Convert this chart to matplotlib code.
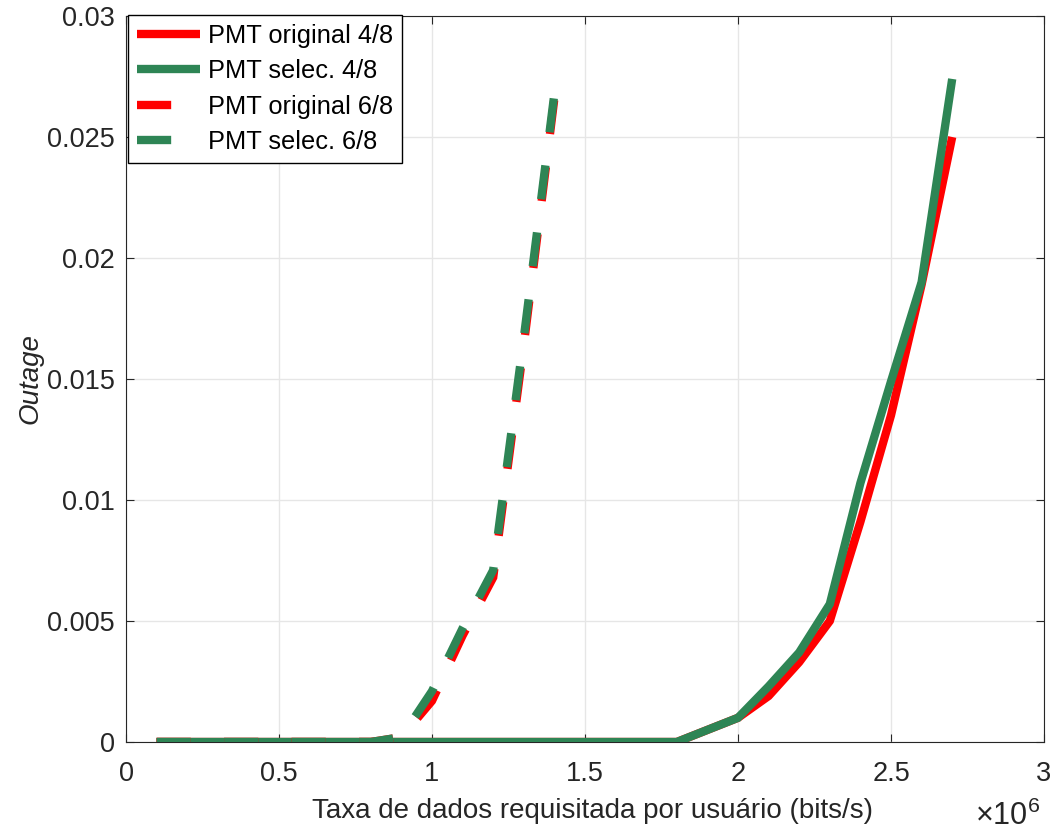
import matplotlib
matplotlib.use("Agg")
import matplotlib.pyplot as plt
from matplotlib.ticker import FuncFormatter, MultipleLocator

plt.rcParams['font.family'] = ['Liberation Sans', 'DejaVu Sans']
plt.rcParams['mathtext.fontset'] = 'custom'
plt.rcParams['mathtext.rm'] = 'Liberation Sans'
plt.rcParams['mathtext.it'] = 'Liberation Sans:italic'

# ---- data ----
x48 = [0.1e6, 0.2e6, 0.3e6, 0.4e6, 0.5e6, 0.6e6, 0.7e6, 0.8e6, 0.9e6, 1.0e6,
       1.1e6, 1.2e6, 1.3e6, 1.4e6, 1.5e6, 1.6e6, 1.7e6, 1.8e6, 1.9e6, 2.0e6,
       2.1e6, 2.2e6, 2.3e6, 2.4e6, 2.5e6, 2.6e6, 2.7e6]
orig48 = [0, 0, 0, 0, 0, 0, 0, 0, 0, 0,
          0, 0, 0, 0, 0, 0, 0, 0, 0.0005, 0.0010,
          0.0019, 0.0033, 0.0050, 0.0091, 0.0135, 0.0189, 0.0250]
sel48 = [0, 0, 0, 0, 0, 0, 0, 0, 0, 0,
         0, 0, 0, 0, 0, 0, 0, 0, 0.0005, 0.0010,
         0.0023, 0.0037, 0.0057, 0.0107, 0.0149, 0.0190, 0.0274]

x68 = [0.1e6, 0.2e6, 0.3e6, 0.4e6, 0.5e6, 0.6e6, 0.7e6, 0.8e6, 0.9e6, 1.0e6,
       1.1e6, 1.2e6, 1.3e6, 1.4e6]
orig68 = [0, 0, 0, 0, 0, 0, 0, 0, 0.0002, 0.0017, 0.0044, 0.0068, 0.0164, 0.0266]
sel68 = [0, 0, 0, 0, 0, 0, 0, 0, 0.0002, 0.0021, 0.0047, 0.0071, 0.0167, 0.0268]

labels = ['PMT original 4/8', 'PMT selec. 4/8', 'PMT original 6/8', 'PMT selec. 6/8']
red = '#FF0000'
green = '#2E8555'

fig = plt.figure(figsize=(10.56, 8.32), dpi=100)
ax = fig.add_axes([126/1056, 1-742/832, 918/1056, 726/832])

lw = 6.0
dash = (4.1, 4.0)
ax.plot(x48, orig48, color=red, lw=lw, solid_capstyle='butt', solid_joinstyle='miter', label=labels[0], zorder=3)
ax.plot(x48, sel48, color=green, lw=lw, solid_capstyle='butt', solid_joinstyle='miter', label=labels[1], zorder=3)
ax.plot(x68, orig68, color=red, lw=lw, dashes=dash, dash_capstyle='butt', dash_joinstyle='miter', label=labels[2], zorder=3)
ax.plot(x68, sel68, color=green, lw=lw, dashes=dash, dash_capstyle='butt', dash_joinstyle='miter', label=labels[3], zorder=3)

ax.set_xlim(0, 3e6)
ax.set_ylim(0, 0.03)
ax.xaxis.set_major_locator(MultipleLocator(0.5e6))
ax.yaxis.set_major_locator(MultipleLocator(0.005))
ax.xaxis.set_major_formatter(FuncFormatter(lambda v, p: f"{v/1e6:g}"))
ax.yaxis.set_major_formatter(FuncFormatter(lambda v, p: f"{v:g}"))

ax.grid(True, color='#e6e6e6', lw=1.0, zorder=0)
ax.set_axisbelow(True)
for s in ax.spines.values():
    s.set_color('#262626')
    s.set_linewidth(0.8)
ax.tick_params(axis='both', direction='in', length=6, width=0.8, color='#262626',
               labelsize=19.5, labelcolor='#262626', top=True, right=True)
ax.tick_params(axis='x', pad=13.5)
ax.tick_params(axis='y', pad=8)

ax.set_xlabel('Taxa de dados requisitada por usuário (bits/s)', fontsize=20, color='#262626')
ax.xaxis.set_label_coords(0.508, -0.077)
ax.set_ylabel('Outage', fontsize=20, style='italic', color='#262626')
ax.yaxis.set_label_coords(-0.09, 0.5)

fig.text(1040/1056, 1-825/832, r'$\times10^{6}$', ha='right', va='baseline', fontsize=22, color='#262626')

leg = ax.legend(loc='upper left', bbox_to_anchor=(128/1056, 1-15/832), bbox_transform=fig.transFigure,
                borderaxespad=0, fontsize=18.3, handlelength=2.5, handletextpad=0.3,
                labelspacing=0.45, borderpad=0.35, fancybox=False, framealpha=1, edgecolor='black')
leg.get_frame().set_linewidth(1.0)

fig.savefig('out.png', dpi=100)
